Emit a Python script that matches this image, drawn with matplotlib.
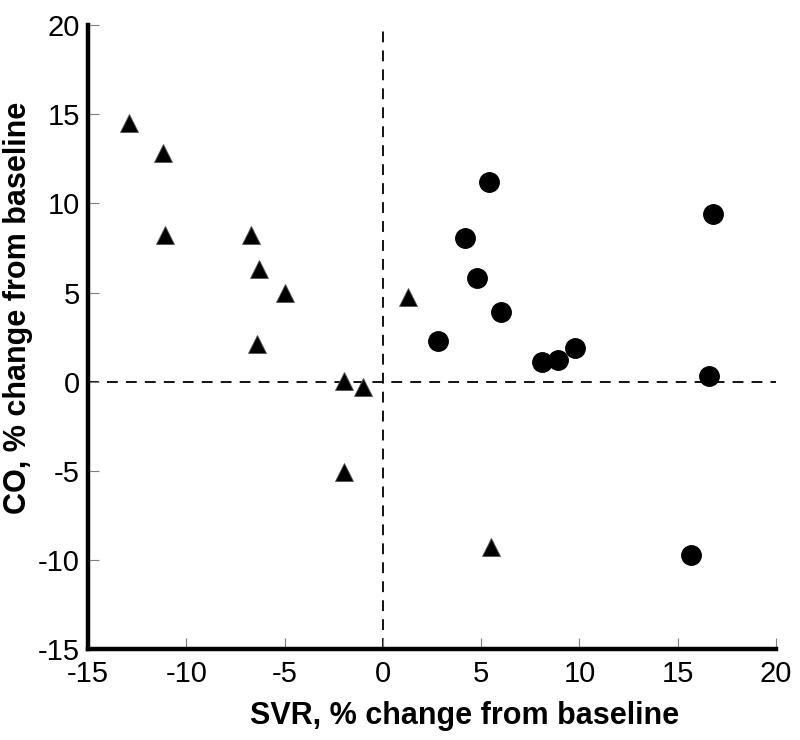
"""
SVR vs CO percent change scatter
"""

import matplotlib
matplotlib.use('Agg')
import matplotlib.pyplot as plt

#---------------------------------------------------------------------------------------------------
# Input Parameters
#---------------------------------------------------------------------------------------------------

# Triangles
tri_svr = [-12.9, -11.2, -11.1, -6.7, -6.3, -5.0, -6.4, -2.0, -1.0, 1.3, -2.0, 5.5]
tri_co = [14.5, 12.8, 8.2, 8.2, 6.3, 5.0, 2.1, 0.05, -0.3, 4.75, -5.05, -9.3]

# Circles
cir_svr = [5.4, 16.8, 4.2, 4.8, 6.0, 2.8, 8.1, 8.9, 9.8, 16.6, 15.7]
cir_co = [11.2, 9.4, 8.05, 5.8, 3.9, 2.3, 1.1, 1.2, 1.9, 0.3, -9.7]

xticks = [-15, -10, -5, 0, 5, 10, 15, 20]
yticks = [-15, -10, -5, 0, 5, 10, 15, 20]

out_fname = 'out.png'

#---------------------------------------------------------------------------------------------------
# Main Program
#---------------------------------------------------------------------------------------------------

plt.rcParams['font.family'] = ['Liberation Sans', 'DejaVu Sans']
plt.rcParams['axes.unicode_minus'] = False

fig = plt.figure(figsize=(8, 7.4), dpi=100)
ax = fig.add_axes([0.11, 0.123, 0.86, 0.843])

# Reference lines
ax.axhline(0, color='k', lw=1.3, ls=(0, (6, 4.5)), zorder=1)
ax.axvline(0, color='k', lw=1.3, ls=(0, (6, 4.5)), zorder=1)

# Data
ax.plot(tri_svr, tri_co, ls='none', marker='^', ms=13, color='k', mec='#555555', mew=0.6, zorder=3)
ax.plot(cir_svr, cir_co, ls='none', marker='o', ms=14, color='k', zorder=3)

# Formatting
ax.set_xlim(-15, 20)
ax.set_ylim(-15, 20)
ax.set_xticks(xticks)
ax.set_yticks(yticks)
ax.tick_params(axis='both', direction='in', length=8, width=0.8, color='gray', labelsize=21,
               pad=6)
ax.tick_params(axis='x', pad=8)
for s in ['top', 'right']:
    ax.spines[s].set_visible(False)
for s in ['left', 'bottom']:
    ax.spines[s].set_linewidth(3.2)

ax.set_xlabel('SVR, % change from baseline', size=22, weight='bold', labelpad=9, x=0.548)
ax.set_ylabel('CO, % change from baseline', size=22, weight='bold', labelpad=3, y=0.546)

plt.savefig(out_fname, dpi=100)
plt.close()
